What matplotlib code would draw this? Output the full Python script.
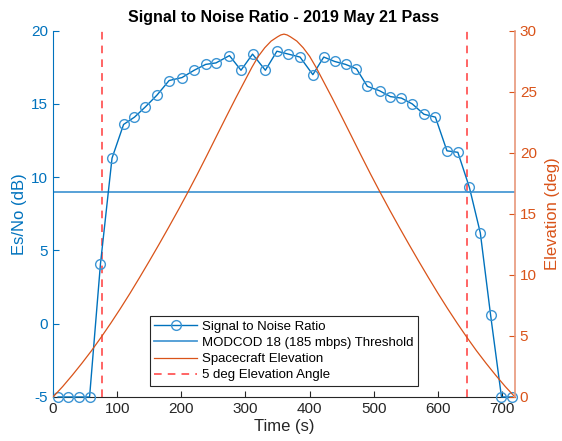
import numpy as np
import matplotlib.pyplot as plt
from matplotlib.lines import Line2D

plt.rcParams['font.family'] = ['Liberation Sans', 'DejaVu Sans']
plt.rcParams['axes.unicode_minus'] = False

# SNR samples
snr_time = [8, 24, 41, 57, 74, 92, 110, 127, 144, 162, 181, 201, 220, 238,
            254, 275, 293, 311, 331, 349, 367, 385, 405, 422, 439, 456, 473,
            490, 509, 526, 543, 560, 578, 596, 614, 631, 649, 666, 682, 699, 716]
snr_db = [-5, -5, -5, -5, 4.1, 11.3, 13.6, 14.1, 14.8, 15.6, 16.6, 16.8, 17.3,
          17.7, 17.8, 18.3, 17.3, 18.4, 17.3, 18.6, 18.4, 18.2, 17.0, 18.2,
          17.9, 17.7, 17.4, 16.2, 15.9, 15.5, 15.4, 15.0, 14.3, 14.1, 11.8,
          11.7, 9.3, 6.2, 0.6, -5, -5]

threshold_db = 9.0

# spacecraft elevation
elev_time = [0, 15, 30, 45, 60, 75, 90, 105, 120, 135, 150, 165, 180, 195,
             210, 225, 240, 255, 270, 285, 300, 310, 320, 330, 340, 350, 355,
             360, 365, 370, 380, 390, 400, 410, 420, 435, 450, 465, 480, 495,
             510, 525, 540, 555, 570, 585, 600, 615, 630, 645, 660, 675, 690,
             705, 720]
elev_deg = [0, 0.85, 1.78, 2.76, 3.79, 4.89, 6.04, 7.24, 8.49, 9.79, 11.12,
            12.48, 13.87, 15.29, 16.75, 18.25, 19.8, 21.38, 22.95, 24.5,
            26.0, 27.0, 27.9, 28.6, 29.15, 29.5, 29.65, 29.72, 29.65,
            29.5, 29.15, 28.6, 27.9, 27.0, 26.0, 24.5, 22.95, 21.38,
            19.8, 18.25, 16.75, 15.29, 13.87, 12.48, 11.12, 9.79, 8.49, 7.24,
            6.04, 4.89, 3.79, 2.76, 1.78, 0.85, 0]

# times where elevation crosses 5 deg
five_deg_times = [76.4, 646]

blue = '#0072BD'
orange = '#D95319'
red = '#FF3B3B'
dark = '#262626'

fig = plt.figure(figsize=(5.62, 4.41), dpi=100)
ax = fig.add_axes([0.0943, 0.0998, 0.822, 0.8306])
ax2 = ax.twinx()

# left axis: SNR
ax.plot(snr_time, snr_db, '-o', color=blue, lw=1, ms=7, mfc='none',
        mec='#3d95d4', mew=1, clip_on=False, zorder=5)
ax.axhline(threshold_db, color='#4a9ad4', lw=1.3)
for t in five_deg_times:
    ax.axvline(t, color=red, lw=1.1, ls=(0, (5, 4)))

# right axis: elevation
ax2.plot(elev_time, elev_deg, color=orange, lw=0.9)

ax.set_xlim(0, 720)
ax.set_ylim(-5, 20)
ax2.set_ylim(0, 30)
ax.set_xticks(np.arange(0, 701, 100))
ax.set_yticks(np.arange(-5, 21, 5))
ax2.set_yticks(np.arange(0, 31, 5))

ax.spines['top'].set_visible(False)
ax2.spines['top'].set_visible(False)
ax.spines['right'].set_visible(False)
ax2.spines['left'].set_visible(False)
ax2.spines['bottom'].set_visible(False)
ax.spines['left'].set_color(blue)
ax.spines['bottom'].set_color(dark)
ax2.spines['right'].set_color('#e8977a')
ax2.spines['right'].set_linewidth(1.2)

ax.tick_params(axis='y', colors=blue, direction='in', labelsize=11, length=4)
ax.tick_params(axis='x', colors=dark, direction='in', labelsize=11, length=4)
ax2.tick_params(axis='y', colors=orange, direction='in', labelsize=11, length=4)

ax.set_xlabel('Time (s)', fontsize=12, color=dark, labelpad=2)
ax.set_ylabel('Es/No (dB)', fontsize=12, color=blue, labelpad=3)
ax2.set_ylabel('Elevation (deg)', fontsize=12, color=orange, rotation=90,
               labelpad=6)
ax.set_title('Signal to Noise Ratio - 2019 May 21 Pass', fontsize=11.5,
             fontweight='bold', pad=6)

handles = [
    Line2D([], [], color=blue, lw=1, marker='o', ms=7, mfc='none', mec='#3d95d4'),
    Line2D([], [], color='#4a9ad4', lw=1.3),
    Line2D([], [], color=orange, lw=0.9),
    Line2D([], [], color=red, lw=1.1, ls=(0, (5, 4))),
]
labels = ['Signal to Noise Ratio', 'MODCOD 18 (185 mbps) Threshold',
          'Spacecraft Elevation', '5 deg Elevation Angle']
leg = ax2.legend(handles, labels, loc='lower center', bbox_to_anchor=(0.5, 0.03),
                 fontsize=9.5, fancybox=False, framealpha=1, edgecolor=dark,
                 handlelength=3.2, borderpad=0.35, labelspacing=0.3,
                 handletextpad=0.4, borderaxespad=0)
leg.get_frame().set_linewidth(0.8)

plt.savefig('out.png', dpi=100)
